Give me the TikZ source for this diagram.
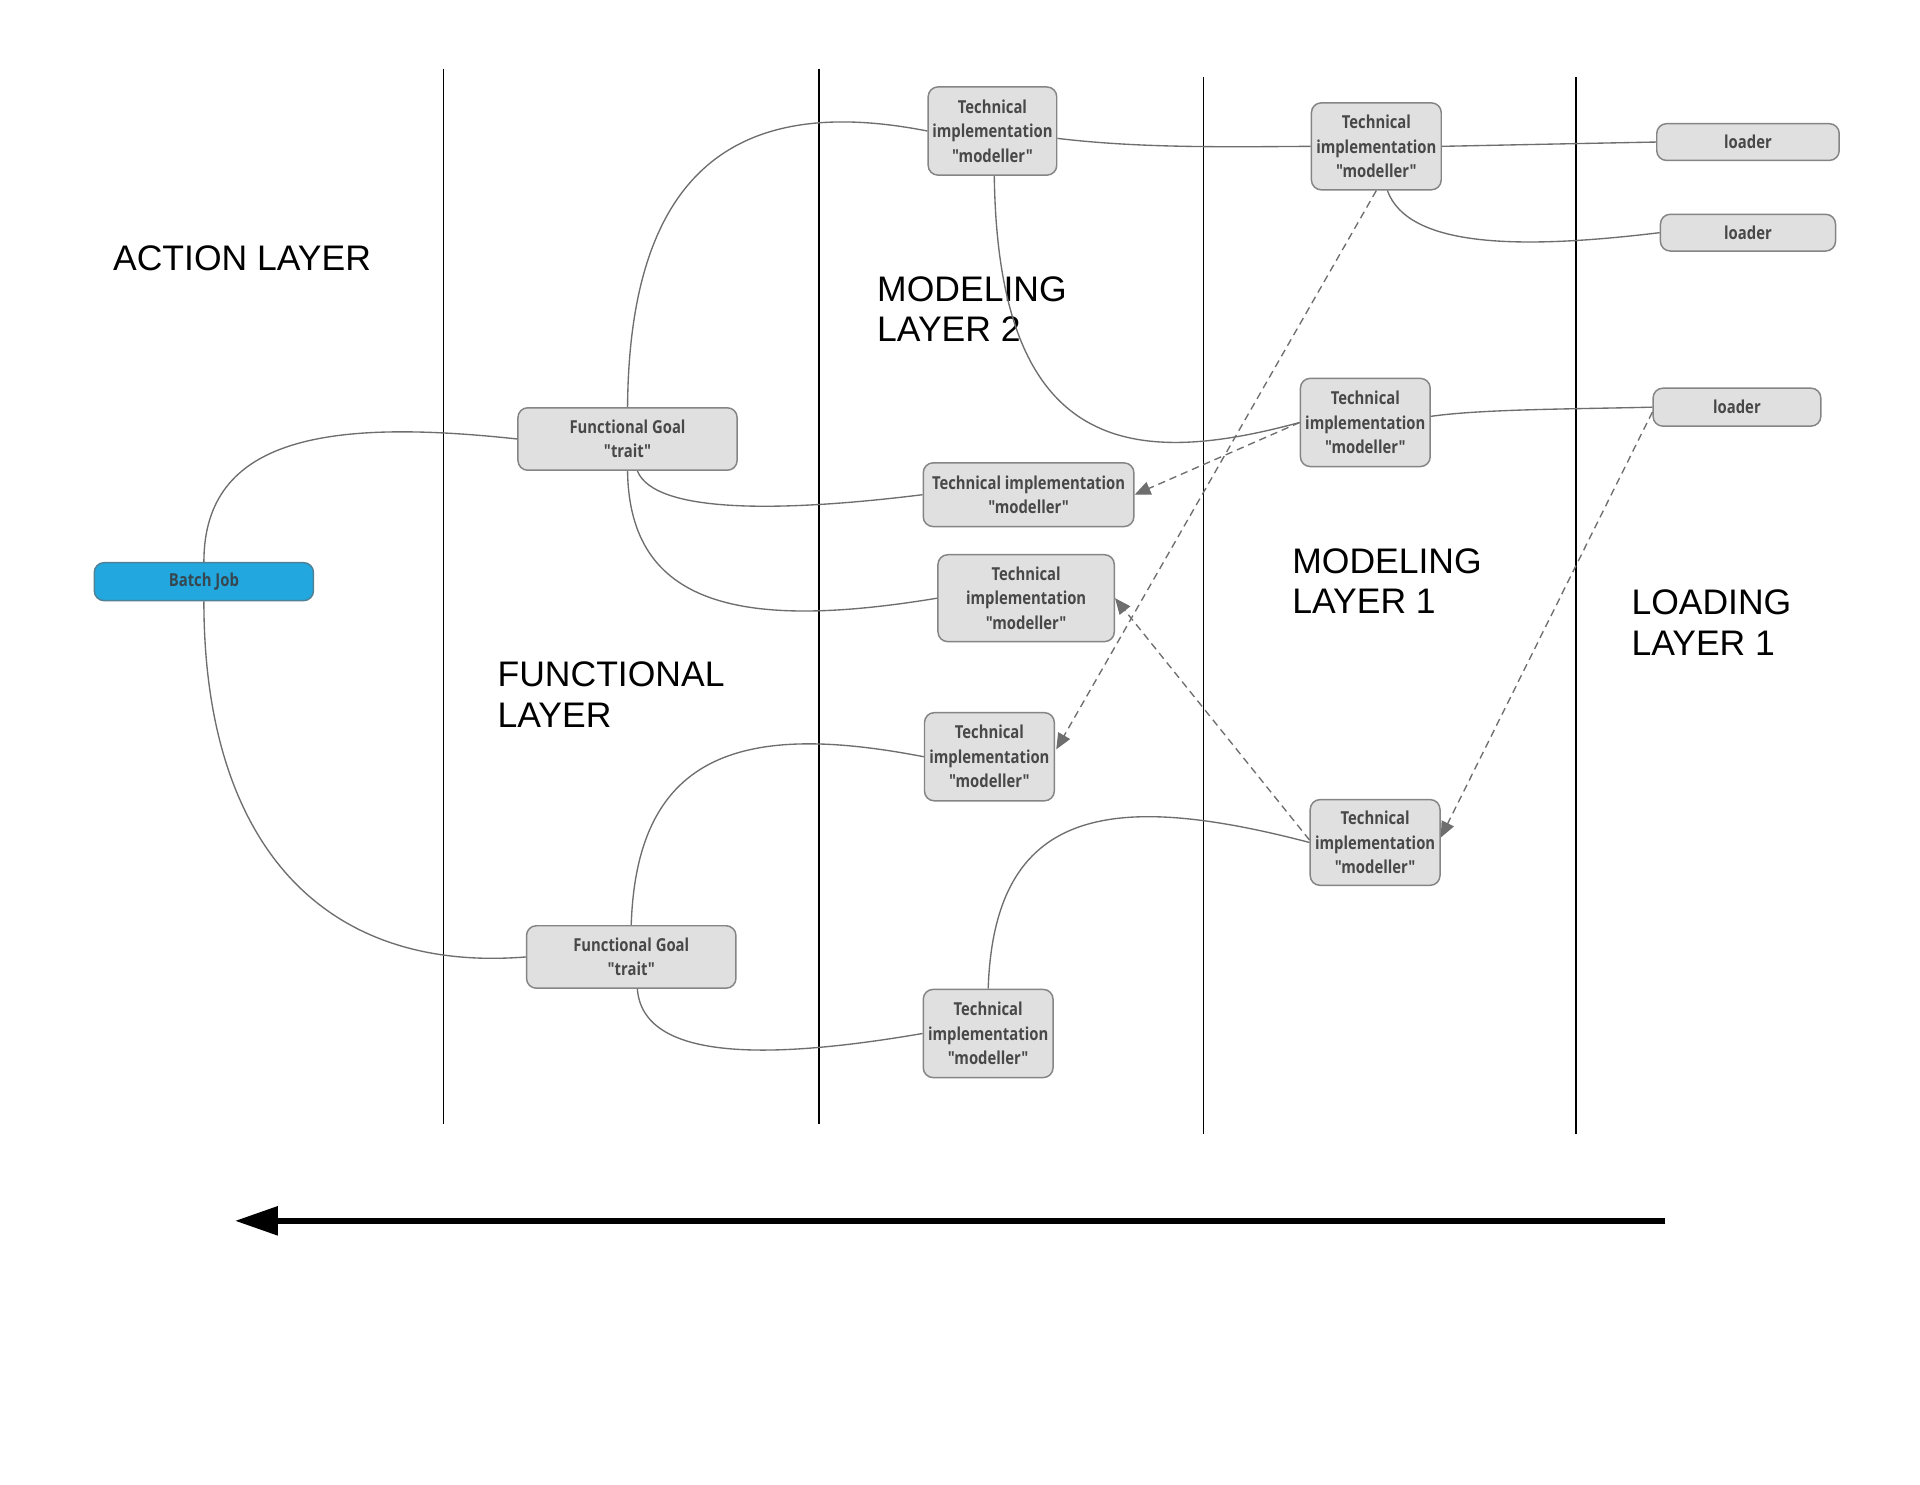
\documentclass[tikz,border=0pt]{standalone}
\usepackage{fontspec}
\setmainfont{Liberation Sans}
\newfontfamily\nodefont{Open Sans}[FakeStretch=0.83,Ligatures=TeXOff]
\usetikzlibrary{arrows.meta,calc}

\definecolor{boxfill}{HTML}{E0E0E0}
\definecolor{boxline}{HTML}{858585}
\definecolor{boxtext}{HTML}{484848}
\definecolor{wirecol}{HTML}{6E6E6E}
\definecolor{jobfill}{HTML}{22A7DF}
\definecolor{jobline}{HTML}{4F8197}
\definecolor{jobtext}{HTML}{37474F}

\tikzset{
  box/.style={draw=boxline, fill=boxfill, rounded corners=4pt, line width=0.6pt,
    text=boxtext, font=\nodefont\bfseries\fontsize{7.3}{10}\selectfont,
    align=center, inner sep=1pt},
  jobbox/.style={box, draw=jobline, fill=jobfill, text=jobtext},
  sz/.style 2 args={minimum width=#1*0.5pt, minimum height=#2*0.5pt},
  wire/.style={draw=wirecol, line width=0.55pt},
  dep/.style={draw=wirecol, line width=0.55pt, dash pattern=on 3pt off 2pt,
    -{Triangle[length=6.5pt,width=5.5pt]}},
  lane/.style={draw=black, line width=0.6pt},
  layer/.style={font=\fontsize{14.5}{16.5}\selectfont, align=left,
    anchor=base west, inner sep=0pt}
}

\begin{document}
\begin{tikzpicture}[x=0.5pt,y=-0.5pt]
\useasboundingbox (0,0) rectangle (1568,1212);
\fill[white] (0,0) rectangle (1568,1212);

% lane separators
\coordinate (l1t) at (362,56);  \coordinate (l1b) at (362,918);
\coordinate (l2t) at (669,56);  \coordinate (l2b) at (669,918);
\coordinate (l3t) at (983,63);  \coordinate (l3b) at (983,926);
\coordinate (l4t) at (1287,63); \coordinate (l4b) at (1287,926);
\draw[lane] (l1t) -- (l1b);
\draw[lane] (l2t) -- (l2b);
\draw[lane] (l3t) -- (l3b);
\draw[lane] (l4t) -- (l4b);

% layer titles (anchor = baseline of last line)
\node[layer] (tact) at (92,221) {ACTION LAYER};
\node[layer] (tm2) at (716,279) {MODELING\\LAYER 2};
\node[layer] (tfun) at (406,594) {FUNCTIONAL\\LAYER};
\node[layer] (tm1) at (1055,501) {MODELING\\LAYER 1};
\node[layer] (tload) at (1332,535) {LOADING\\LAYER 1};

% nodes
\node[jobbox, sz={179}{31}] (bj) at (166.5,475) {Batch Job};
\node[box, sz={179}{51}] (fg1) at (512.5,358.5) {Functional Goal\\"trait"};
\node[box, sz={171}{51}] (fg2) at (515.5,781.5) {Functional Goal\\"trait"};
\node[box, sz={105}{72}] (ttop) at (810.5,107) {Technical\\implementation\\"modeller"};
\node[box, sz={172}{52}] (ta) at (840,404) {Technical implementation\\"modeller"};
\node[box, sz={144}{71}] (tb) at (838,488.5) {Technical\\implementation\\"modeller"};
\node[box, sz={106}{72}] (tc) at (808,618) {Technical\\implementation\\"modeller"};
\node[box, sz={106}{72}] (td) at (807,844) {Technical\\implementation\\"modeller"};
\node[box, sz={106}{71}] (te) at (1124,119.5) {Technical\\implementation\\"modeller"};
\node[box, sz={106}{72}] (tf) at (1115,345) {Technical\\implementation\\"modeller"};
\node[box, sz={106}{70}] (tg) at (1123,688) {Technical\\implementation\\"modeller"};
\node[box, sz={149}{30}] (ld1) at (1427.5,116) {loader};
\node[box, sz={143}{30}] (ld2) at (1427.5,190) {loader};
\node[box, sz={137}{31}] (ld3) at (1418.5,332.5) {loader};

% solid connectors
\draw[wire] (bj.north) .. controls (166.5,356) and (270,342) .. (fg1.west);
\draw[wire] (bj.south) .. controls (166.5,685) and (260,795) .. (fg2.west);
\draw[wire] (fg1.north) .. controls (514,130) and (610,78) .. (ttop.west);
\draw[wire] ($(fg1.south)+(8,0)$) .. controls (535,420) and (640,418) .. (ta.west);
\draw[wire] (fg1.south) .. controls (514,495) and (605,515) .. (tb.west);
\draw[wire] (fg2.north) .. controls (520,612) and (610,590) .. (tc.west);
\draw[wire] ($(fg2.south)+(5,0)$) .. controls (525,866) and (625,866) .. (td.west);
\draw[wire] ($(ttop.east)+(0,6)$) .. controls (930,121) and (1000,120) .. (te.west);
\draw[wire] ($(ttop.south)+(1.5,0)$) .. controls (815,372) and (925,382) .. (tf.west);
\draw[wire] (te.east) .. controls (1250,118) and (1300,117) .. (ld1.west);
\draw[wire] ($(te.south)+(9,0)$) .. controls (1150,202) and (1240,204) .. (ld2.west);
\draw[wire] ($(tf.east)+(0,-5)$) .. controls (1210,334) and (1290,334) .. (ld3.west);
\draw[wire] (td.north) .. controls (812,660) and (905,645) .. (tg.west);

% dashed dependencies
\draw[dep] (tf.west) -- (ta.east);
\draw[dep] (te.south) -- ($(tc.east)+(1,-6)$);
\draw[dep] ($(tg.west)+(0,-2)$) -- (tb.east);
\draw[dep] ($(ld3.west)+(0,4)$) -- ($(tg.east)+(0,-4)$);

% direction arrow
\coordinate (dirstart) at (1360,997);
\coordinate (dirend) at (192,997);
\draw[line width=2.2pt, -{Triangle[length=17.5pt,width=11.5pt]}] (dirstart) -- (dirend);
\end{tikzpicture}
\end{document}
